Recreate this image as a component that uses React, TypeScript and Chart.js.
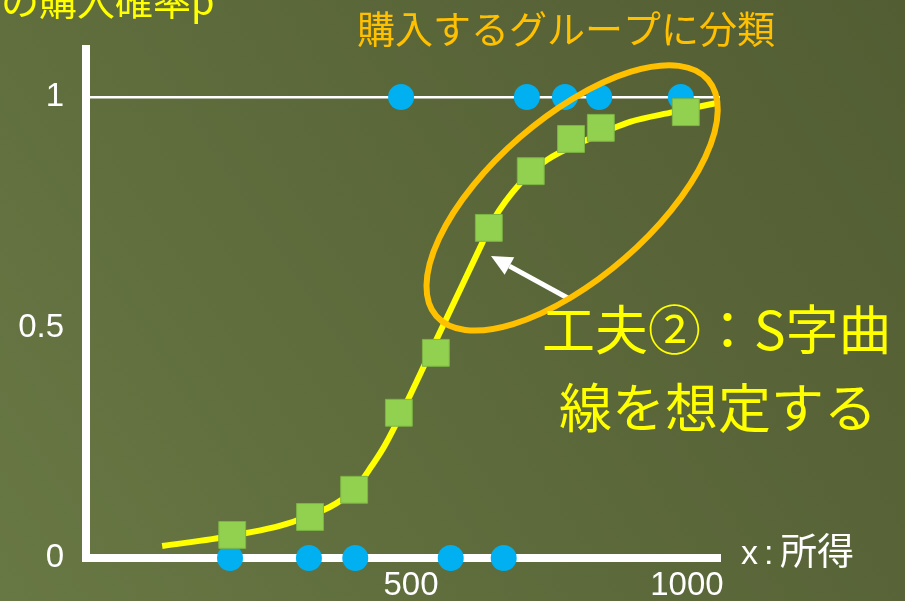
import React, { useEffect, useRef } from "react";
import { Chart, registerables } from "chart.js";

Chart.register(...registerables);

// axis ticks
const incomeTicks = [500, 1000];
const probTicks = [0, 0.5, 1];

// observed households: bought (p = 1) / did not buy (p = 0)
const buyerIncome = [482, 710, 779, 841, 989];
const nonBuyerIncome = [172, 315, 399, 572, 668];

// share of buyers in each income group
const groupIncome = [176, 317, 397, 478, 545, 641, 717, 790, 844, 998];
const groupProb = [0.05, 0.089, 0.148, 0.315, 0.445, 0.716, 0.839, 0.909, 0.933, 0.967];

// S-shaped curve through the groups
const curveIncome = [49, 174, 294, 397, 429, 453, 545, 629, 649, 698, 746, 819, 897, 975, 1054];
const curveProb = [0.026, 0.048, 0.082, 0.148, 0.2, 0.245, 0.471, 0.683, 0.733, 0.813, 0.863, 0.907, 0.946, 0.967, 0.987];

const JP = "'Noto Sans CJK JP', 'Noto Sans', sans-serif";
const LATIN = "'Liberation Sans', Arial, sans-serif";
const YELLOW = "#FFFF00";
const ORANGE = "#FFC000";

const chalkboard = {
  id: "chalkboard",
  beforeDraw(chart: any) {
    const { ctx, width, height } = chart;
    const g = ctx.createLinearGradient(0, height, width, 0);
    g.addColorStop(0, "#687844");
    g.addColorStop(0.45, "#5d6a3b");
    g.addColorStop(1, "#525d33");
    ctx.save();
    ctx.fillStyle = g;
    ctx.fillRect(0, 0, width, height);
    ctx.restore();
  },
};

const notes = {
  id: "notes",
  afterDatasetsDraw(chart: any) {
    const { ctx } = chart;
    const { x, y } = chart.scales;

    // arrow pointing at the curve
    const tx = x.getPixelForValue(645);
    const ty = y.getPixelForValue(0.655);
    const fx = x.getPixelForValue(784);
    const fy = y.getPixelForValue(0.564);
    const ang = Math.atan2(ty - fy, tx - fx);
    const head = 21;
    const half = 10;
    const bx = tx - head * Math.cos(ang);
    const by = ty - head * Math.sin(ang);
    ctx.save();
    ctx.strokeStyle = "#ffffff";
    ctx.fillStyle = "#ffffff";
    ctx.lineWidth = 5;
    ctx.beginPath();
    ctx.moveTo(fx, fy);
    ctx.lineTo(bx, by);
    ctx.stroke();
    ctx.beginPath();
    ctx.moveTo(tx, ty);
    ctx.lineTo(bx + half * Math.sin(ang), by - half * Math.cos(ang));
    ctx.lineTo(bx - half * Math.sin(ang), by + half * Math.cos(ang));
    ctx.closePath();
    ctx.fill();

    // ellipse around the buyer groups
    const cx = x.getPixelForValue(792);
    const cy = y.getPixelForValue(0.781);
    ctx.strokeStyle = ORANGE;
    ctx.lineWidth = 6;
    ctx.beginPath();
    ctx.ellipse(cx, cy, 180, 80, (-41 * Math.PI) / 180, 0, Math.PI * 2);
    ctx.stroke();
    ctx.restore();
  },
  afterDraw(chart: any) {
    const { ctx } = chart;
    ctx.save();

    ctx.fillStyle = YELLOW;
    ctx.font = `38px ${JP}`;
    ctx.textAlign = "left";
    ctx.textBaseline = "alphabetic";
    ctx.fillText("の購入確率p", 1, 15);

    ctx.fillStyle = ORANGE;
    ctx.font = `38px ${JP}`;
    ctx.textAlign = "center";
    ctx.textBaseline = "middle";
    ctx.fillText("購入するグループに分類", 566, 29);

    ctx.fillStyle = "#ffffff";
    ctx.textAlign = "left";
    ctx.textBaseline = "alphabetic";
    ctx.font = `34px ${LATIN}`;
    ctx.fillText("x", 741, 564);
    ctx.fillText(":", 764, 564);
    ctx.font = `37px ${JP}`;
    ctx.fillText("所得", 780, 565);

    ctx.fillStyle = YELLOW;
    ctx.font = `53px ${JP}`;
    ctx.textAlign = "left";
    ctx.textBaseline = "middle";
    ctx.fillText("工夫②：S字曲", 542, 330);
    ctx.textAlign = "center";
    ctx.fillText("線を想定する", 718, 408);

    ctx.restore();
  },
};

export default function App() {
  const ref = useRef<HTMLCanvasElement | null>(null);

  useEffect(() => {
    if (!ref.current) return;
    const chart = new Chart(ref.current, {
      type: "scatter",
      data: {
        datasets: [
          {
            label: "group",
            data: groupIncome.map((v, i) => ({ x: v, y: groupProb[i] })),
            pointStyle: "rect",
            pointRadius: 19,
            backgroundColor: "#92D050",
            borderColor: "#7DB544",
            borderWidth: 1,
            clip: false,
            order: 0,
          },
          {
            type: "line",
            label: "curve",
            data: curveIncome.map((v, i) => ({ x: v, y: curveProb[i] })),
            borderColor: YELLOW,
            borderWidth: 6,
            pointRadius: 0,
            cubicInterpolationMode: "monotone",
            fill: false,
            clip: false,
            order: 1,
          },
          {
            label: "bought",
            data: buyerIncome.map((v) => ({ x: v, y: 1 })),
            pointRadius: 13,
            backgroundColor: "#00B0F0",
            borderWidth: 0,
            clip: false,
            order: 2,
          },
          {
            label: "not bought",
            data: nonBuyerIncome.map((v) => ({ x: v, y: 0 })),
            pointRadius: 13,
            backgroundColor: "#00B0F0",
            borderWidth: 0,
            clip: false,
            order: 2,
          },
        ],
      } as any,
      options: {
        responsive: false,
        animation: false,
        devicePixelRatio: 1,
        layout: { padding: { top: 49, right: 185, left: 0, bottom: 0 } },
        plugins: { legend: { display: false }, tooltip: { enabled: false } },
        scales: {
          x: {
            type: "linear",
            min: -89,
            max: 1060,
            afterFit: (s: any) => {
              s.height = 43;
            },
            afterBuildTicks: (s: any) => {
              s.ticks = incomeTicks.map((v) => ({ value: v }));
            },
            grid: { display: false, drawTicks: false },
            border: { display: true, color: "#ffffff", width: 8 },
            ticks: {
              color: "#ffffff",
              font: { family: LATIN, size: 33 },
              padding: 8,
              maxRotation: 0,
              autoSkip: false,
              callback: (v: any) => String(v),
            },
          },
          y: {
            type: "linear",
            min: 0,
            max: 1.104,
            afterFit: (s: any) => {
              s.width = 86;
            },
            afterBuildTicks: (s: any) => {
              s.ticks = probTicks.map((v) => ({ value: v }));
            },
            grid: {
              color: (c: any) => (c.tick && c.tick.value === 1 ? "#ffffff" : "rgba(0,0,0,0)"),
              lineWidth: 2.5,
              drawTicks: false,
            },
            border: { display: true, color: "#ffffff", width: 8 },
            ticks: {
              color: "#ffffff",
              font: { family: LATIN, size: 33 },
              padding: 22,
              callback: (v: any) => String(v),
            },
          },
        },
      } as any,
      plugins: [chalkboard, notes],
    });
    return () => chart.destroy();
  }, []);

  return (
    <div style={{ position: "fixed", left: 0, top: 0, width: 905, height: 601 }}>
      <canvas ref={ref} width={905} height={601} style={{ display: "block", width: 905, height: 601 }} />
    </div>
  );
}
